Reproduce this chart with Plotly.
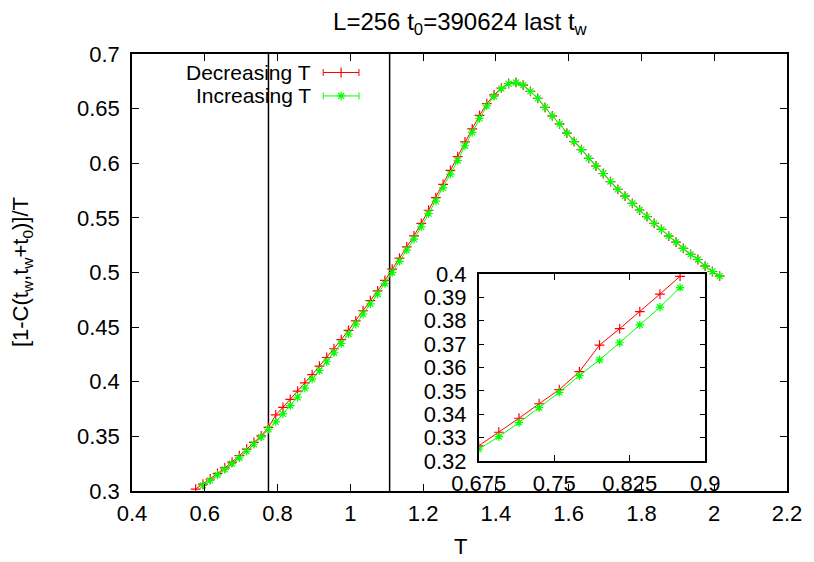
import plotly.graph_objects as go

# Temperature grid shared by both annealing protocols
T = [0.575, 0.595, 0.615, 0.635, 0.655, 0.675, 0.695, 0.715, 0.735, 0.755,
     0.775, 0.795, 0.815, 0.835, 0.855, 0.875, 0.895, 0.915, 0.935, 0.955,
     0.975, 0.995, 1.015, 1.035, 1.055, 1.075, 1.095, 1.115, 1.135, 1.155,
     1.175, 1.195, 1.215, 1.235, 1.255, 1.275, 1.295, 1.315, 1.335, 1.355,
     1.375, 1.395, 1.415, 1.435, 1.455, 1.475, 1.495, 1.515, 1.535, 1.555,
     1.575, 1.595, 1.615, 1.635, 1.655, 1.675, 1.695, 1.715, 1.735, 1.755,
     1.775, 1.795, 1.815, 1.835, 1.855, 1.875, 1.895, 1.915, 1.935, 1.955,
     1.975, 1.995, 2.015]

# [1-C(tw, tw+t0)]/T, cooling run
decreasing = [0.3018, 0.3063, 0.3110, 0.3160, 0.3211, 0.3265, 0.3323, 0.3383, 0.3445, 0.3505,
              0.3582, 0.3696, 0.3766, 0.3839, 0.3914, 0.3990, 0.4065, 0.4143, 0.4222, 0.4302,
              0.4385, 0.4470, 0.4558, 0.4650, 0.4743, 0.4832, 0.4928, 0.5030, 0.5132, 0.5235,
              0.5335, 0.5450, 0.5570, 0.5685, 0.5807, 0.5935, 0.6061, 0.6195, 0.6315, 0.6438,
              0.6545, 0.6625, 0.6688, 0.6730, 0.6740, 0.6716, 0.6658, 0.6594, 0.6511, 0.6434,
              0.6360, 0.6275, 0.6198, 0.6125, 0.6045, 0.5975, 0.5906, 0.5832, 0.5761, 0.5700,
              0.5633, 0.5572, 0.5511, 0.5450, 0.5394, 0.5333, 0.5278, 0.5220, 0.5165, 0.5119,
              0.5058, 0.5009, 0.4966]

# Heating run (first temperature falls below the plotted range)
T_inc = T[1:]
increasing = [0.3051, 0.3097, 0.3147, 0.3198, 0.3251, 0.3304, 0.3364, 0.3428, 0.3494,
              0.3565, 0.3633, 0.3706, 0.3782, 0.3858, 0.3942, 0.4024, 0.4103, 0.4183, 0.4265,
              0.4350, 0.4437, 0.4527, 0.4620, 0.4713, 0.4803, 0.4899, 0.5000, 0.5102, 0.5205,
              0.5305, 0.5418, 0.5538, 0.5653, 0.5775, 0.5900, 0.6025, 0.6160, 0.6282, 0.6410,
              0.6525, 0.6613, 0.6683, 0.6728, 0.6739, 0.6716, 0.6658, 0.6594, 0.6511, 0.6434,
              0.6360, 0.6275, 0.6198, 0.6125, 0.6045, 0.5975, 0.5906, 0.5832, 0.5761, 0.5700,
              0.5633, 0.5572, 0.5511, 0.5450, 0.5394, 0.5333, 0.5278, 0.5220, 0.5165, 0.5119,
              0.5058, 0.5009, 0.4966]

# Reference temperatures marked by vertical lines
T_marks = [0.775, 1.108]
series_names = ["Decreasing T", "Increasing T"]
inset_window = (0.675, 0.875)

RED = "#ff0000"
GREEN = "#00ff00"
FONT = "Liberation Sans, Arial, sans-serif"
FS = 22

fig = go.Figure()

styles = [
    (T, decreasing, RED, "cross-thin-open"),
    (T_inc, increasing, GREEN, "asterisk-open"),
]

# Main panel
for (xs, ys, col, sym) in styles:
    fig.add_trace(go.Scatter(
        x=xs, y=ys, mode="lines+markers", xaxis="x", yaxis="y",
        line=dict(color=col, width=1),
        marker=dict(symbol=sym, size=7, color=col, line=dict(color=col, width=1.2)),
        showlegend=False, hoverinfo="x+y"))

# Inset: low-temperature zoom
lo, hi = inset_window
for (xs, ys, col, sym) in styles:
    sel = [(a, b) for a, b in zip(xs, ys) if lo - 1e-9 <= a <= hi + 1e-9]
    fig.add_trace(go.Scatter(
        x=[a for a, _ in sel], y=[b for _, b in sel], mode="lines+markers",
        xaxis="x2", yaxis="y2",
        line=dict(color=col, width=1),
        marker=dict(symbol=sym, size=7, color=col, line=dict(color=col, width=1.2)),
        showlegend=False, hoverinfo="x+y"))

# Key drawn gnuplot-style: label on the left, line sample with end caps on the right
key_x_text = 0.2745
key_x_sample = 0.3192
key_half = 0.0273
key_y = [0.9577, 0.9040]
for (name, (xs, ys, col, sym), ky) in zip(series_names, styles, key_y):
    fig.add_trace(go.Scatter(
        x=[key_x_sample], y=[ky], mode="markers", xaxis="x3", yaxis="y3",
        marker=dict(symbol=sym, size=7, color=col, line=dict(color=col, width=1.2)),
        error_x=dict(type="data", array=[key_half], symmetric=True,
                     color=col, thickness=1, width=3.5),
        showlegend=False, hoverinfo="skip"))
    fig.add_annotation(text=name, x=key_x_text, y=ky, xref="paper", yref="paper",
                       xanchor="right", yanchor="middle", showarrow=False, borderpad=0,
                       font=dict(family=FONT, size=21, color="black"))

# Vertical marker lines
for tm in T_marks:
    fig.add_shape(type="line", xref="x", yref="y domain", x0=tm, x1=tm, y0=0, y1=1,
                  line=dict(color="black", width=1.5), layer="below")
fig.add_shape(type="line", xref="x2", yref="y2 domain", x0=T_marks[0], x1=T_marks[0],
              y0=0, y1=1, line=dict(color="black", width=1.2), layer="below")

axis_common = dict(showline=True, linecolor="black", linewidth=1.5, mirror="allticks",
                   ticks="inside", tickcolor="black", tickwidth=1.2,
                   showgrid=False, zeroline=False,
                   tickfont=dict(family=FONT, size=FS, color="black"))

fig.update_layout(
    width=814, height=562, autosize=False,
    margin=dict(l=132, r=22, t=54, b=71, pad=0),
    paper_bgcolor="white", plot_bgcolor="white",
    font=dict(family=FONT, size=FS, color="black"),
    title=dict(text="L=256 t<sub>0</sub>=390624 last t<sub>w</sub>",
               x=0.565, xanchor="center", xref="container",
               y=0.962, yanchor="middle", yref="container",
               font=dict(family=FONT, size=24, color="black")),
    xaxis=dict(domain=[0, 1], range=[0.4, 2.2], tick0=0.4, dtick=0.2, ticklen=7,
               ticklabelstandoff=2, anchor="y", **axis_common),
    yaxis=dict(domain=[0, 1], range=[0.3, 0.7], tick0=0.3, dtick=0.05, ticklen=7,
               ticklabelstandoff=6, anchor="x", **axis_common),
    xaxis2=dict(domain=[0.5293, 0.8752], range=[0.675, 0.9],
                tickvals=[0.675, 0.75, 0.825, 0.9], ticklen=6,
                ticklabelstandoff=2, anchor="y2", **axis_common),
    yaxis2=dict(domain=[0.0686, 0.4966], range=[0.32, 0.40], tick0=0.32, dtick=0.01,
                ticklen=6, ticklabelstandoff=6, anchor="x2", **axis_common),
    xaxis3=dict(range=[0, 1], overlaying="x", visible=False, anchor="y3"),
    yaxis3=dict(range=[0, 1], overlaying="y", visible=False, anchor="x3"),
    showlegend=False,
)

# Axis titles
fig.add_annotation(text="T", x=0.501, y=-0.128, xref="paper", yref="paper",
                   xanchor="center", yanchor="middle", showarrow=False,
                   font=dict(family=FONT, size=FS, color="black"))
fig.add_annotation(text="[1-C(t<sub>w</sub>,t<sub>w</sub>+t<sub>0</sub>)]/T",
                   x=-0.1686, y=0.5, xref="paper", yref="paper", textangle=-90,
                   xanchor="center", yanchor="middle", showarrow=False,
                   font=dict(family=FONT, size=FS, color="black"))

fig.write_html("out.html")
